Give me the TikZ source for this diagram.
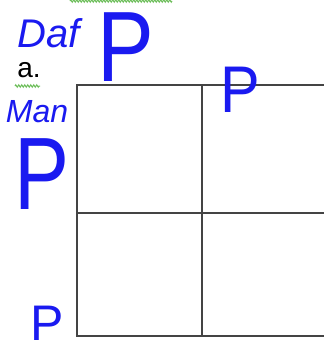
\documentclass[tikz,border=0pt]{standalone}
\usepackage{fontspec}
\setmainfont{Liberation Sans}
\usetikzlibrary{decorations.pathmorphing}
\definecolor{ink}{HTML}{1A1AF0}
\definecolor{gridc}{HTML}{444444}
\definecolor{squig}{HTML}{6DBE5A}
\begin{document}
\begin{tikzpicture}[x=1pt,y=-1pt,
  gridline/.style={draw=gridc,line width=2.4pt},
  hand/.style={text=ink,inner sep=0pt,anchor=center,text depth=0pt},
  squiggle/.style={draw=squig,line width=1pt,decorate,decoration={zigzag,segment length=3pt,amplitude=1.2pt}}]
\useasboundingbox (0,0) rectangle (324,354);
\fill[white] (0,0) rectangle (324,354);
% grid
\coordinate (tl) at (77,85);
\coordinate (tr) at (324,85);
\coordinate (ml) at (77,213);
\coordinate (mr) at (324,213);
\coordinate (bl) at (77,336);
\coordinate (br) at (324,336);
\coordinate (tm) at (202,85);
\coordinate (bm) at (202,336);
\draw[gridline] (tr) -- (tl) -- (bl) -- (br);
\draw[gridline] (ml) -- (mr);
\draw[gridline] (tm) -- (bm);
% squiggles
\draw[squiggle] (70,1) -- (172,1);
\draw[squiggle] (15,86) -- (40,86);
% texts
\node[hand,text height=29pt,font=\itshape\fontsize{40}{40}\selectfont] (daf) at (49,33) {Daf};
\node[hand,text height=72pt,xscale=0.85,font=\fontsize{100}{100}\selectfont] (p1) at (126,45) {P};
\node[inner sep=0pt,font=\fontsize{28}{28}\selectfont] (a) at (29,70) {a.};
\node[hand,text height=23pt,font=\itshape\fontsize{32}{32}\selectfont] (man) at (37,111) {Man};
\node[hand,text height=74pt,xscale=0.8,font=\fontsize{103}{103}\selectfont] (p2) at (42,172) {P};
\node[hand,text height=47.5pt,xscale=0.9,font=\fontsize{66}{66}\selectfont] (p3) at (240,89) {P};
\node[hand,text height=36pt,font=\fontsize{50}{50}\selectfont] (p4) at (47,322) {P};
\end{tikzpicture}
\end{document}
